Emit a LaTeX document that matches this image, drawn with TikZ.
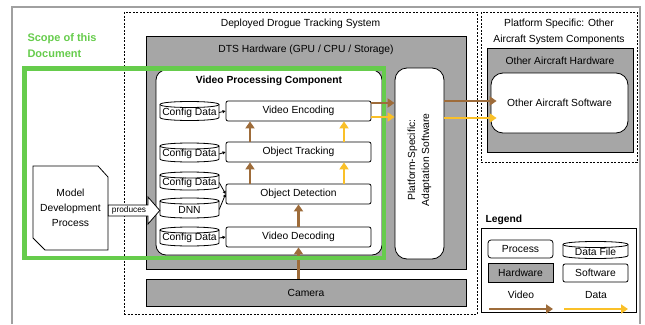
\documentclass[tikz,border=0pt]{standalone}
\usepackage{fontspec}
\setmainfont{Liberation Sans}
\usetikzlibrary{arrows.meta,calc}

\definecolor{hwgray}{RGB}{166,166,166}
\definecolor{framegray}{RGB}{160,160,160}
\definecolor{scopegreen}{RGB}{102,204,76}
\definecolor{videobrown}{RGB}{158,108,58}
\definecolor{datayellow}{RGB}{250,192,40}

\tikzset{
  plain/.style={inner sep=0pt},
  dashbox/.style={draw, dash pattern=on 2pt off 1.5pt, line width=0.7pt, inner sep=0pt},
  hwbox/.style={draw, fill=hwgray, line width=0.8pt, inner sep=0pt},
  swbox/.style={draw, fill=white, line width=0.8pt, inner sep=0pt},
  procbox/.style={draw, fill=white, rounded corners=2pt, line width=0.8pt, inner sep=0pt},
  filebox/.style={draw, fill=white, line width=0.8pt},
  cfgarrow/.style={line width=0.8pt, -{Triangle[length=3pt,width=3pt]}},
  video/.style={videobrown, line width=2.6pt, -{Triangle[length=7pt,width=9pt]}},
  data/.style={datayellow, line width=2.6pt, -{Triangle[length=7pt,width=9pt]}},
  boldtxt/.style={font=\fontsize{10.3}{12.5}\selectfont\bfseries},
}

% data file drawn as an upright cylinder: name, cx, cy, width, height, label
\newcommand\datafile[6]{%
  \draw[filebox] ({#2-#4/2},{#3-#5/2+3}) -- ({#2-#4/2},{#3+#5/2-3})
     .. controls ({#2-#4/2},{#3+#5/2+1}) and ({#2+#4/2},{#3+#5/2+1}) .. ({#2+#4/2},{#3+#5/2-3})
     -- ({#2+#4/2},{#3-#5/2+3})
     .. controls ({#2+#4/2},{#3-#5/2-1}) and ({#2-#4/2},{#3-#5/2-1}) .. ({#2-#4/2},{#3-#5/2+3}) -- cycle;
  \draw[filebox] ({#2-#4/2},{#3-#5/2+3})
     .. controls ({#2-#4/2},{#3-#5/2+7}) and ({#2+#4/2},{#3-#5/2+7}) .. ({#2+#4/2},{#3-#5/2+3});
  \node[plain, minimum width=#4pt, minimum height=#5pt, yshift=-1.5pt] (#1) at (#2,#3) {#6};
}

\begin{document}
\begin{tikzpicture}[x=1pt,y=-1pt, font=\fontsize{10.3}{12.5}\selectfont]
\useasboundingbox (0,0) rectangle (645,324);

% outer frame
\draw[framegray, line width=1.2pt] (12,324) -- (12,7) -- (640,7) -- (640,324);

% dashed containers
\node[dashbox, minimum width=353pt, minimum height=302pt] (dts) at (300.5,163) {};
\node (dtstitle) at (300.5,24) {Deployed Drogue Tracking System};
\node[dashbox, minimum width=156pt, minimum height=150pt] (plat) at (559,87) {};
\node[align=center, font=\fontsize{10.3}{16}\selectfont] (plattitle) at (559,32) {Platform Specific: Other\\Aircraft System Components};

% DTS hardware and camera
\node[hwbox, minimum width=320pt, minimum height=233pt] (hw) at (306,152.5) {};
\node (hwtitle) at (306,50) {DTS Hardware (GPU / CPU / Storage)};
\node[hwbox, minimum width=320pt, minimum height=27pt] (cam) at (306,292.5) {Camera};

% video processing component
\node[swbox, rounded corners=10pt, minimum width=226pt, minimum height=185pt] (vpc) at (269,162.5) {};
\node[boldtxt] (vpctitle) at (269,81) {Video Processing Component};

\node[procbox, minimum width=145pt, minimum height=20pt] (enc) at (298.5,111) {Video Encoding};
\node[procbox, minimum width=145pt, minimum height=20pt] (trk) at (298.5,152) {Object Tracking};
\node[procbox, minimum width=145pt, minimum height=20pt] (det) at (298.5,194) {Object Detection};
\node[procbox, minimum width=145pt, minimum height=20pt] (dec) at (298.5,237) {Video Decoding};

\datafile{cenc}{189.5}{111}{59}{19}{Config Data}
\datafile{ctrk}{189.5}{152.5}{59}{19}{Config Data}
\datafile{cdet}{189.5}{181}{59}{18}{Config Data}
\datafile{dnn}{189.5}{208}{59}{20}{DNN}
\datafile{cdec}{189.5}{236.5}{59}{19}{Config Data}

\draw[cfgarrow] (cenc.east) -- (enc.west);
\draw[cfgarrow] (ctrk.east) -- (trk.west);
\draw[cfgarrow] (cdet.east) -- (det.west);
\draw[cfgarrow] (dnn.east) -- (det.west);
\draw[cfgarrow] (cdec.east) -- (dec.west);

% video and data flow inside the component
\draw[video] ([xshift=-48.5pt]trk.north) -- ([xshift=-48.5pt]enc.south);
\draw[video] ([xshift=-48.5pt]det.north) -- ([xshift=-48.5pt]trk.south);
\draw[video] (dec.north) -- (det.south);
\draw[video] (cam.north -| dec.south) -- (dec.south);
\draw[data] ([xshift=45.5pt]det.north) -- ([xshift=45.5pt]trk.south);
\draw[data] ([xshift=45.5pt]trk.north) -- ([xshift=45.5pt]enc.south);

% adaptation software
\node[swbox, rounded corners=12pt, minimum width=49pt, minimum height=191pt] (adapt) at (419.5,163.5) {};
\node[rotate=90, align=center, font=\fontsize{10.3}{14}\selectfont] (adapttxt) at (419.5,160) {Platform-Specific:\\Adaptation Software};

% other aircraft hardware / software
\node[hwbox, minimum width=146pt, minimum height=104pt] (oah) at (560,100) {};
\node (oahtitle) at (560,61) {Other Aircraft Hardware};
\node[swbox, rounded corners=12pt, minimum width=137pt, minimum height=60pt] (oas) at (559.5,103) {Other Aircraft Software};

% model development process
\node[plain, minimum width=75pt, minimum height=84pt] (mdp) at (70.5,208) {};
\draw[line width=0.8pt, fill=white] (33,166) -- (98,166) -- (108,177) -- (108,250) -- (45,250) -- (33,238) -- cycle;
\node[align=center, font=\fontsize{10.3}{15}\selectfont] (mdptxt) at (mdp.center) {Model\\Development\\Process};

% hollow "produces" arrow into the DNN file
\draw[line width=0.8pt, fill=white] (mdp.east |- 0,205) -- (148,205) -- (148,197) -- (dnn.west |- 0,210.5)
  -- (148,224) -- (148,216) -- (mdp.east |- 0,216) -- cycle;
\node[font=\fontsize{8.3}{10}\selectfont] (prodtxt) at (129,210.5) {produces};

% scope of the document
\draw[scopegreen, line width=4.5pt] (24.5,68.5) rectangle (384,258);
\node[anchor=west, align=left, text=scopegreen, font=\fontsize{11}{16}\selectfont\bfseries] (scope) at (24,46) {Scope of this\\Document};

% flows leaving the component
\coordinate (vy) at (0,103);
\coordinate (dy) at (0,117);
\coordinate (vy2) at (0,101);
\coordinate (dy2) at (0,118);
\coordinate (oasin) at ([xshift=6pt]oas.west);
\draw[video] (enc.east |- vy) -- (adapt.west |- vy);
\draw[data] (enc.east |- dy) -- (adapt.west |- dy);
\draw[video] (adapt.east |- vy2) -- (oasin |- vy2);
\draw[data] (adapt.east |- dy2) -- (oasin |- dy2);

% legend
\node[boldtxt, anchor=west] (legtitle) at (482,220) {Legend};
\node[draw, line width=0.8pt, inner sep=0pt, minimum width=155pt, minimum height=84pt] (leg) at (558.5,270) {};
\node[procbox, rounded corners=3pt, minimum width=65pt, minimum height=18pt] (lproc) at (520.5,249) {Process};
\datafile{lfile}{595.5}{250}{65}{17}{Data File}
\node[hwbox, minimum width=65pt, minimum height=19pt] (lhw) at (520.5,272.5) {Hardware};
\node[procbox, minimum width=65pt, minimum height=18pt] (lsw) at (595.5,273) {Software};
\node (lvid) at (521,295) {Video};
\node (ldat) at (596,295) {Data};
\coordinate (lv1) at (489,309);
\coordinate (lv2) at (553,309);
\coordinate (ld1) at (564,309);
\coordinate (ld2) at (628,309);
\draw[video] (lv1) -- (lv2);
\draw[data] (ld1) -- (ld2);
\end{tikzpicture}
\end{document}
